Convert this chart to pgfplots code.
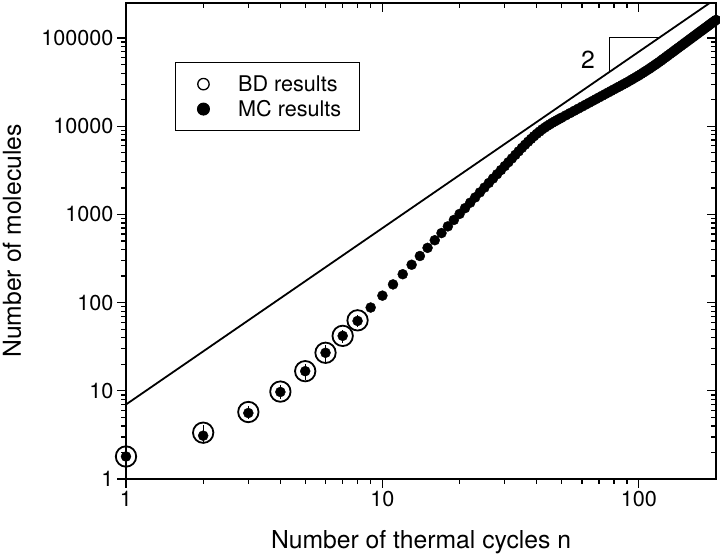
\documentclass[border=0pt]{standalone}
\usepackage{fontspec}
\setmainfont{TeX Gyre Heros}
\usepackage{pgfplots}
\pgfplotsset{compat=1.18}
\begin{document}
\begin{tikzpicture}
\path[use as bounding box] (-126pt,-77pt) rectangle (594pt,479pt);
\begin{loglogaxis}[
  at={(0pt,0pt)}, anchor=south west,
  scale only axis, width=590pt, height=476pt,
  xmin=1, xmax=200, ymin=1, ymax=250000,
  axis line style={line width=1.6pt},
  every tick/.style={black, line width=1.3pt},
  major tick length=9pt, minor tick length=5pt,
  tick align=outside, xtick pos=left, ytick pos=left,
  log ticks with fixed point,
  /pgf/number format/1000 sep={},
  /pgf/number format/assume math mode=true,
  tick label style={font=\fontsize{21.6}{26}\selectfont},
  xlabel={Number of thermal cycles n},
  ylabel={Number of molecules},
  label style={font=\fontsize{24.7}{30}\selectfont},
  xlabel style={at={(rel axis cs:0.5,-0.145)}, anchor=base},
  ylabel style={at={(rel axis cs:-0.178,0.5)}, anchor=base},
  legend style={at={(rel axis cs:0.083,0.876)}, anchor=north west, draw=black, line width=1pt,
    font=\fontsize{21.6}{26}\selectfont, inner xsep=16pt, inner ysep=11pt, row sep=3.5pt,
    nodes={inner sep=2pt}},
  legend cell align=left,
  legend image code/.code={\path[draw=none, fill=none] (0pt,-6pt) rectangle (44.7pt,6pt); \draw[#1] plot coordinates {(12pt,0pt)};},
]
\addplot[forget plot, only marks, mark=o, mark size=10.2pt, mark options={line width=1.8pt}, black]
  coordinates {(1,1.8) (2,3.35) (3,5.75) (4,9.8) (5,16.7) (6,27) (7,42) (8,63)};
\addplot[forget plot, draw=none, mark=none,
  error bars/.cd, y dir=both, y explicit, error bar style={line width=0.5pt, black}, error mark=none]
  coordinates {
  (2,3.35) +- (0,0.7)
  (3,5.75) +- (0,0.95)
  (4,9.8) +- (0,1.8)
  (5,16.7) +- (0,3.5)
  (6,27) +- (0,6)
  (7,42) +- (0,7.5)
  (8,63) +- (0,10)
};
\addplot[forget plot, only marks, mark=*, mark size=5pt, black] coordinates {
(1,1.8) (2,3.1) (3,5.6) (4,9.7) (5,16.7) (6,27) (7,42) (8,62) (9,88) (10,120)
(11,161) (12,210) (13,269) (14,338) (15,418) (16,510) (17,615) (18,733) (19,866) (20,1014)
(21,1179) (22,1360) (23,1560) (24,1779) (25,2017) (26,2276) (27,2556) (28,2860) (29,3187) (30,3537)
(31,3913) (32,4314) (33,4743) (34,5200) (35,5685) (36,6180) (37,6683) (38,7194) (39,7715) (40,8222)
(41,8710) (42,9226) (43,9661) (44,10116) (45,10532) (46,10965) (47,11350) (48,11749) (49,12134) (50,12531)
(52,13328) (54,14141) (56,14972) (58,15821) (60,16686) (62,17567) (64,18463) (66,19379) (68,20310) (70,21258)
(72,22220) (74,23196) (76,24190) (78,25197) (80,26220) (82,27253) (84,28300) (86,29367) (88,30447) (90,31537)
(92,32734) (94,33954) (96,35196) (98,36448) (100,37720) (102,39127) (104,40557) (106,42011) (108,43487) (110,44994)
(112,46651) (114,48322) (116,50030) (118,51775) (120,53546) (122,55485) (124,57458) (126,59476) (128,61522) (130,63598)
(132,65722) (134,67877) (136,70083) (138,72316) (140,74583) (142,76913) (144,79250) (146,81641) (148,84077) (150,86550)
(152,89035) (154,91570) (156,94150) (158,96760) (160,99400) (162,102090) (164,104830) (166,107590) (168,110410) (170,113240)
(172,116140) (174,119070) (176,122010) (178,125030) (180,128060) (182,131130) (184,134250) (186,137400) (188,140600) (190,143850)
(192,147140) (194,150400) (196,153760) (198,157150) (200,160590)
};
\addplot[forget plot, black, line width=1.8pt] coordinates {(1,7) (200,280000)};
\addplot[forget plot, black, line width=0.9pt] coordinates {(76.9,41400) (76.9,103000) (121,103000)};
\node[font=\fontsize{24.7}{30}\selectfont] at (axis cs:63.4,56600) {2};
\addlegendimage{only marks, mark=o, mark size=5.7pt, mark options={line width=1.3pt}, black}
\addlegendentry{BD results}
\addlegendimage{only marks, mark=*, mark size=6pt, black}
\addlegendentry{MC results}
\end{loglogaxis}
\begin{loglogaxis}[
  at={(0pt,0pt)}, anchor=south west,
  scale only axis, width=590pt, height=476pt,
  xmin=1, xmax=200, ymin=1, ymax=250000,
  axis line style={line width=1.6pt},
  every tick/.style={black, line width=1.3pt},
  major tick length=9pt, minor tick length=5pt,
  tick align=inside, xtick pos=right, ytick pos=right,
  xticklabels={}, yticklabels={},
]
\addplot[draw=none, mark=none] coordinates {(1,1) (200,250000)};
\end{loglogaxis}
\end{tikzpicture}
\end{document}
